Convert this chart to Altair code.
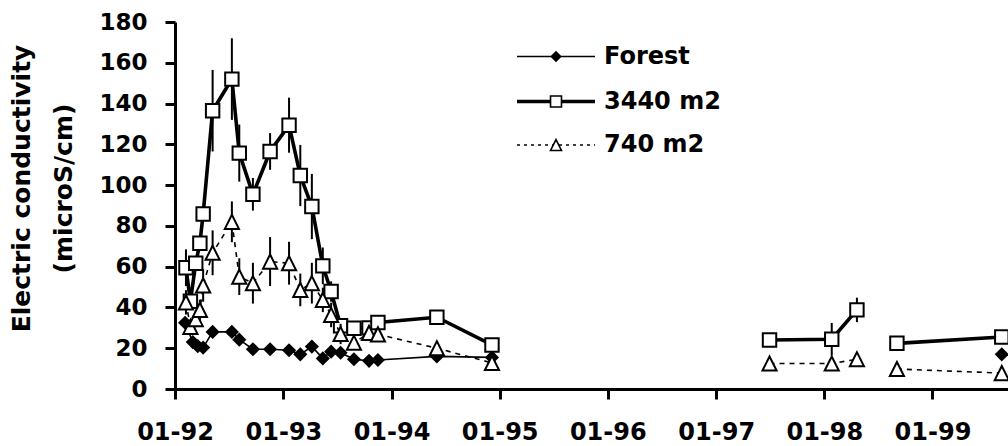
import altair as alt
import pandas as pd

# ---------------- data ----------------
forest_dates = ["1992-02-04", "1992-03-01", "1992-03-18", "1992-04-05", "1992-05-07",
                "1992-07-11", "1992-08-05", "1992-09-20", "1992-11-17", "1993-01-20",
                "1993-02-27", "1993-04-07", "1993-05-14", "1993-06-11", "1993-07-13",
                "1993-08-27", "1993-10-17", "1993-11-16", "1994-06-03", "1994-12-06",
                "1999-08-23"]
forest_vals = [32.5, 23, 21, 20.3, 28, 28, 24.2, 19.5, 19.5, 19, 17, 20.8, 15, 18.3, 17.8,
               14.6, 13.8, 14.2, 16, 15.5, 17]
forest_seg = [1] * 20 + [2]

site_dates = ["1992-02-07", "1992-02-22", "1992-03-11", "1992-03-25", "1992-04-05",
              "1992-05-07", "1992-07-11", "1992-08-05", "1992-09-20", "1992-11-17",
              "1993-01-20", "1993-02-27", "1993-04-07", "1993-05-14", "1993-06-11",
              "1993-07-13", "1993-08-27", "1993-10-17", "1993-11-16", "1994-06-03",
              "1994-12-06", "1997-06-30", "1998-01-26", "1998-04-21", "1998-09-03",
              "1999-08-23"]
site_seg = [1] * 21 + [2, 2, 2, 3, 3]

big_vals = [59.5, 43, 61.7, 71.5, 85.8, 136.5, 152, 115.7, 95.5, 116.5, 129.4, 104.7, 89.5,
            60.4, 47.8, 31, 29.8, 30, 32.6, 35.2, 21.6, 24, 24.4, 38.8, 22.4, 25.5]
big_err = [9, None, None, None, None, 20, 20, 14, 8, 9, 13.5, 15, 16, 9, 5, None, None, None,
           None, 3, None, None, 8, 6, None, None]

small_vals = [42.5, 30.5, 34.3, 38.8, 50.8, 66.8, 82, 55.1, 51.9, 62.5, 61.7, 48.6, 51.9,
              43.7, 36.3, 27, 22.7, 27.5, 26.8, 20, 12.8, 12.5, 12.5, 14.6, 9.8, 7.8]
small_err = [6, None, 4, 5, 8, 11, 10, 9, 10, 12, 10.5, 8, 10, 6, 6, 5, None, None, None, 2, 2,
             None, 3, None, None, 2]

series_names = ["Forest", "3440 m2", "740 m2"]
y_ticks = [0, 20, 40, 60, 80, 100, 120, 140, 160, 180]
x_tick_years = [1992, 1993, 1994, 1995, 1996, 1997, 1998, 1999]
x_domain = ["1992-01-01", "1999-09-13"]

# ---------------- tables ----------------
def ms(s):
    return int(pd.Timestamp(s, tz="UTC").timestamp() * 1000)

forest = pd.DataFrame({"date": forest_dates, "value": forest_vals, "seg": forest_seg})
big = pd.DataFrame({"date": site_dates, "value": big_vals, "seg": site_seg, "err": big_err})
small = pd.DataFrame({"date": site_dates, "value": small_vals, "seg": site_seg, "err": small_err})
for d in (big, small):
    d["lo"] = d["value"] - d["err"]
    d["hi"] = d["value"] + d["err"]
big_e = big.dropna(subset=["err"])
small_e = small.dropna(subset=["err"])

FONT = "DejaVu Sans"

x_axis = alt.Axis(values=[ms(f"{y}-01-01") for y in x_tick_years], format="%m-%y",
                  title=None, grid=False, labelFlush=False, labelOverlap=False,
                  domainWidth=3, domainColor="black", tickWidth=3, tickSize=10,
                  tickColor="black", labelFont=FONT, labelFontSize=24,
                  labelFontWeight="bold", labelColor="black", labelPadding=21)
y_axis = alt.Axis(values=y_ticks, title=["Electric conductivity", "(microS/cm)"],
                  grid=False, labelFlush=False, domainWidth=3, domainColor="black",
                  tickWidth=3, tickSize=10, tickColor="black", labelFont=FONT,
                  labelFontSize=23, labelFontWeight="bold", labelColor="black",
                  labelPadding=18, titleFont=FONT, titleFontSize=25,
                  titleFontWeight="bold", titleColor="black", titleX=-146, titleY=166,
                  titleBaseline="alphabetic", titleAlign="center", titleLineHeight=42,
                  titleAngle=270)

x_scale = alt.Scale(type="utc", domain=[ms(x_domain[0]), ms(x_domain[1])])
y_scale = alt.Scale(domain=[0, 180], nice=False, zero=False)

def X():
    return alt.X("date:T", scale=x_scale, axis=x_axis)

def Y(field="value"):
    return alt.Y(f"{field}:Q", scale=y_scale, axis=y_axis)

tri_path = "M0,-1L1,1L-1,1Z"

layers = []
# Forest
layers.append(alt.Chart(forest).mark_line(color="black", strokeWidth=1.6)
              .encode(x=X(), y=Y(), detail="seg:N"))
layers.append(alt.Chart(forest).mark_point(shape="diamond", filled=True, color="black",
                                           size=200, opacity=1)
              .encode(x=X(), y=Y()))
# 3440 m2
layers.append(alt.Chart(big_e).mark_rule(color="black", strokeWidth=2)
              .encode(x=X(), y=Y("lo"), y2="hi:Q"))
layers.append(alt.Chart(big).mark_line(color="black", strokeWidth=3.6)
              .encode(x=X(), y=Y(), detail="seg:N"))
layers.append(alt.Chart(big).mark_point(shape="square", filled=True, fill="white",
                                        stroke="black", strokeWidth=2, size=180, opacity=1)
              .encode(x=X(), y=Y()))
# 740 m2
layers.append(alt.Chart(small_e).mark_rule(color="black", strokeWidth=2)
              .encode(x=X(), y=Y("lo"), y2="hi:Q"))
layers.append(alt.Chart(small).mark_line(color="black", strokeWidth=1.6, strokeDash=[5, 5])
              .encode(x=X(), y=Y(), detail="seg:N"))
layers.append(alt.Chart(small).mark_point(shape=tri_path, filled=True, fill="white",
                                          stroke="black", strokeWidth=2, size=200, opacity=1)
              .encode(x=X(), y=Y()))

# ---------------- legend ----------------
leg_rows = [34.5, 79.5, 123]
leg_line = [dict(strokeWidth=1.6), dict(strokeWidth=3.6), dict(strokeWidth=1.5, strokeDash=[3, 4])]
leg_marker = [dict(shape="diamond", filled=True, color="black", size=130),
              dict(shape="square", filled=True, fill="white", stroke="black", strokeWidth=1.6, size=120),
              dict(shape=tri_path, filled=True, fill="white", stroke="black", strokeWidth=1.6, size=120)]
for name, ry, lk, mk in zip(series_names, leg_rows, leg_line, leg_marker):
    d = pd.DataFrame({"label": [name]})
    b = alt.Chart(d)
    layers.append(b.mark_rule(color="black", **lk)
                  .encode(x=alt.value(342), x2=alt.value(420), y=alt.value(ry)))
    layers.append(b.mark_point(opacity=1, **mk).encode(x=alt.value(381), y=alt.value(ry)))
    layers.append(b.mark_text(align="left", baseline="middle", font=FONT, fontSize=24,
                              fontWeight="bold", color="black")
                  .encode(x=alt.value(429), y=alt.value(ry), text="label:N"))

chart = (alt.layer(*layers)
         .properties(width=833, height=367,
                     padding={"left": 175, "top": 22, "right": 0, "bottom": 57},
                     autosize=alt.AutoSizeParams(type="none"), background="white")
         .configure_view(stroke=None))

chart.save("out.html", embed_options={"renderer": "svg", "actions": False})
